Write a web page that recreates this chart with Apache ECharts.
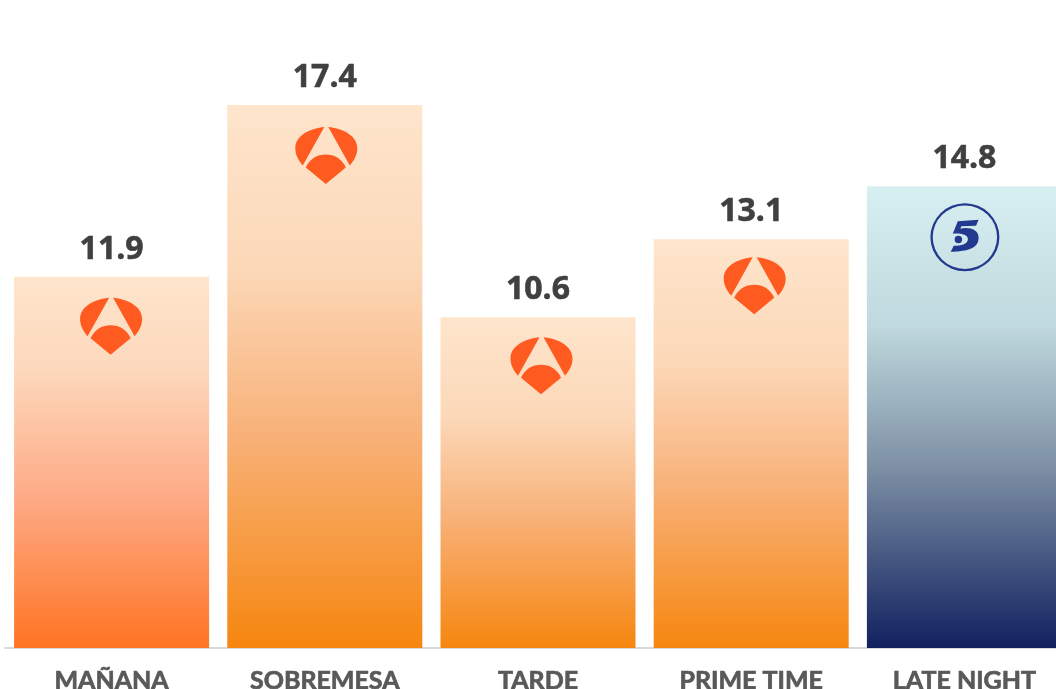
<!DOCTYPE html>
<html>
<head>
<meta charset="utf-8">
<style>
  html, body { margin: 0; padding: 0; background: #fff; overflow: hidden; }
  #chart { width: 1056px; height: 689px; }
</style>
<script src="https://cdn.jsdelivr.net/npm/echarts@6/dist/echarts.min.js"></script>
</head>
<body>
<div id="chart"></div>
<script>
const categories = ['MAÑANA', 'SOBREMESA', 'TARDE', 'PRIME TIME', 'LATE NIGHT']
const shareValues = [11.9, 17.4, 10.6, 13.1, 14.8]
const channels = ['antena3', 'antena3', 'antena3', 'antena3', 'telecinco']

const chart = echarts.init(document.getElementById('chart'))

// logos
const logoAntena3 = 'path://M29 0C16 1 0 8 0 21C0 28 3 33 7.5 38.5ZM33 0L54.5 38.5C59 33 62 28 62 21C62 8 46 1 33 0ZM10.5 40.5C14 32 22 27.5 30.5 27.5C39 27.5 47 32 50.5 40.5L30.5 57Z'
const logoTelecinco = 'path://M34.5 0A34 34 0 1 0 34.5 68A34 34 0 1 0 34.5 0ZM34.5 2.3A31.7 31.7 0 1 1 34.5 65.7A31.7 31.7 0 1 1 34.5 2.3ZM27.5 18L48 16.5L45.5 22.5L31 23L30 25.5C38 23.5 48.5 26 48 35C47.5 45 38 48 20.5 48.5L23.5 42.5C31 42.5 37 41 37.5 36C37.5 31 30 30 22.5 30.5ZM28 32.5A3.7 3.7 0 1 0 28.1 39.9A3.7 3.7 0 1 0 28 32.5Z'

function gradient(stops) {
  return new echarts.graphic.LinearGradient(0, 0, 0, 1, stops)
}
const morningFill = gradient([
  { offset: 0, color: '#fee5cc' }, { offset: 0.25, color: '#fdd8bc' },
  { offset: 0.6, color: '#fdaa85' }, { offset: 1, color: '#ff7423' },
])
const orangeFill = gradient([
  { offset: 0, color: '#fee5cc' }, { offset: 0.3, color: '#fcd8b8' },
  { offset: 0.6, color: '#f8b27a' }, { offset: 1, color: '#f6860f' },
])
const blueFill = gradient([
  { offset: 0, color: '#d8eff2' }, { offset: 0.3, color: '#c0d9de' },
  { offset: 0.6, color: '#7f92a6' }, { offset: 1, color: '#12205f' },
])
const barFills = [morningFill, orangeFill, orangeFill, orangeFill, blueFill]
const logoOffsets = [[-0.5, 21], [1.5, 22], [3.5, 20], [3.5, 18], [0.5, 17]]

chart.setOption({
  animation: false,
  grid: { left: 5, top: 24, width: 1066, height: 624, containLabel: false, outerBoundsMode: 'none' },
  xAxis: {
    type: 'category',
    data: categories,
    axisTick: { show: false },
    axisLine: { lineStyle: { color: '#d9d9d9', width: 2 } },
    axisLabel: {
      color: '#595959',
      fontFamily: 'Lato',
      fontWeight: 'bold',
      fontSize: 25,
      margin: 20,
      interval: 0,
      textBorderColor: '#595959',
      textBorderWidth: 0.7,
    },
  },
  yAxis: { type: 'value', min: 0, max: 20, show: false },
  series: [
    {
      type: 'bar',
      barWidth: 195,
      data: shareValues.map((v, i) => ({ value: v, itemStyle: { color: barFills[i] } })),
      label: {
        show: true,
        position: 'top',
        distance: 11,
        color: '#404040',
        fontFamily: 'Open Sans',
        fontWeight: 'bold',
        fontSize: 32,
        textBorderColor: '#404040',
        textBorderWidth: 0.6,
        formatter: (p) => p.value.toFixed(1),
      },
    },
    {
      type: 'pictorialBar',
      barGap: '-100%',
      symbolPosition: 'end',
      symbolRepeat: false,
      z: 5,
      data: shareValues.map((v, i) => {
        const five = channels[i] === 'telecinco'
        return {
          value: v,
          symbol: five ? logoTelecinco : logoAntena3,
          symbolSize: five ? [69, 68] : [62, 57],
          symbolOffset: logoOffsets[i],
          itemStyle: { color: five ? '#23398f' : '#ff5a1f' },
        }
      }),
    },
  ],
})
</script>
</body>
</html>
